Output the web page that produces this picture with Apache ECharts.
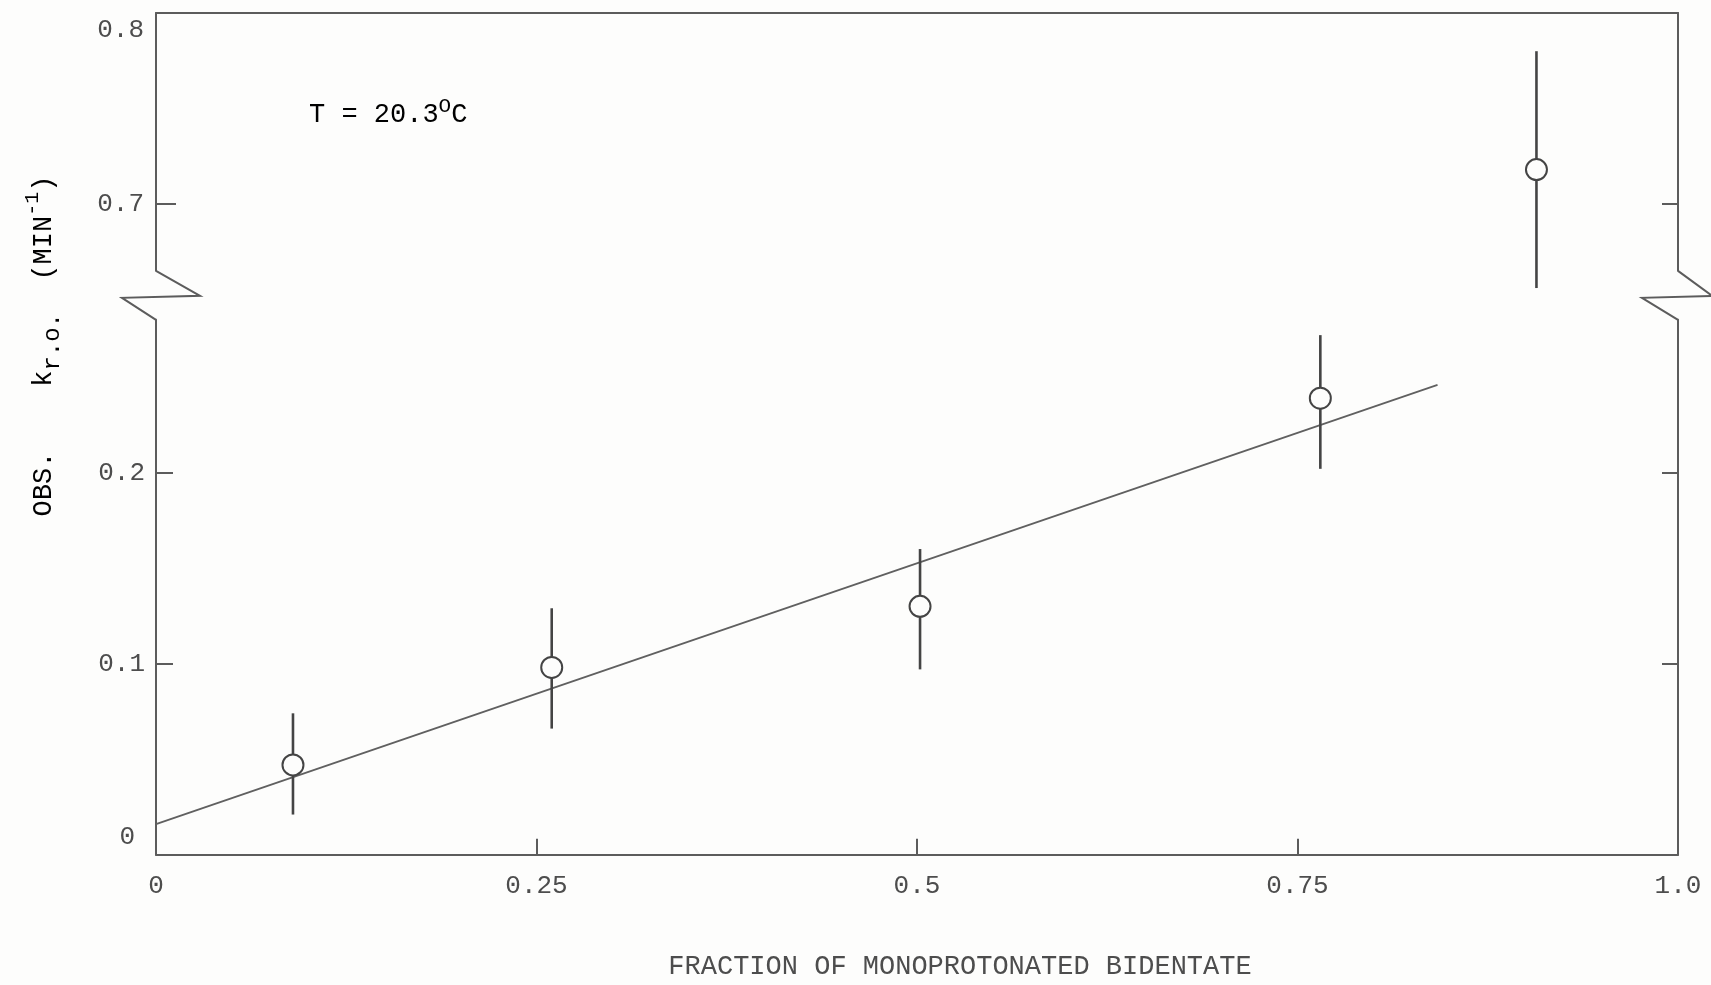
<!DOCTYPE html>
<html>
<head>
<meta charset="utf-8">
<title>Observed rate constant vs. fraction of monoprotonated bidentate</title>
<script src="https://cdn.jsdelivr.net/npm/echarts@6/dist/echarts.min.js"></script>
<style>
  html, body { margin: 0; padding: 0; background: #fdfdfc; }
  #main { width: 1711px; height: 985px; }
</style>
</head>
<body>
<div id="main"></div>
<script>
// Observed rate constant k(r.o.) against the fraction of monoprotonated bidentate
const fraction = [0.09, 0.26, 0.502, 0.765, 0.907];
const kObs     = [0.047, 0.098, 0.130, 0.239, 0.718];
const kLow     = [0.021, 0.066, 0.097, 0.202, 0.656];
const kHigh    = [0.074, 0.129, 0.160, 0.272, 0.780];

// straight line fitted through the lower four points
const fitX = [0, 0.842];
const fitY = [0.016, 0.246];

// tick values and their printed labels
const xTickValues = [0, 0.25, 0.5, 0.75, 1];
const xTickLabels = ['0', '0.25', '0.5', '0.75', '1.0'];
const yLowTicks   = [0, 0.1, 0.2];
const yLowLabels  = ['0', '0.1', '0.2'];
const yHighTicks  = [0.7, 0.8];
const yHighLabels = ['0.7', '0.8'];

// broken y axis: lower panel and upper panel ranges
const lowRange  = [0, 0.28];
const highRange = [0.665, 0.8];

const INK = '#4d4d4d';
const LINE = '#5c5c5c';
const FONT = "'Liberation Mono', 'DejaVu Sans Mono', monospace";
const TICK_FS = 26;
const TITLE_FS = 27;

// both panels share one vertical scale (pixels per unit of k)
const pxPerUnit = 1910;
const plotLeft = 156, plotWidth = 1522, plotTop = 13, breakGap = 49;
const highHeight = (highRange[1] - highRange[0]) * pxPerUnit;
const lowHeight  = (lowRange[1] - lowRange[0]) * pxPerUnit;
const lowTop = plotTop + highHeight + breakGap;

function labelFrom(values, labels) {
  return function (v) {
    for (let i = 0; i < values.length; i++) {
      if (Math.abs(values[i] - v) < 1e-9) return labels[i];
    }
    return '';
  };
}

// split points between the two panels
const lowPts = [], highPts = [], lowBars = [], highBars = [];
fraction.forEach(function (x, i) {
  const pt = [x, kObs[i]];
  const bar = [x, kLow[i], kHigh[i]];
  if (kObs[i] >= highRange[0]) { highPts.push(pt); highBars.push(bar); }
  else { lowPts.push(pt); lowBars.push(bar); }
});

function renderBar(params, api) {
  const x = api.value(0);
  const a = api.coord([x, api.value(1)]);
  const b = api.coord([x, api.value(2)]);
  return {
    type: 'line',
    shape: { x1: a[0], y1: a[1], x2: b[0], y2: b[1] },
    style: { stroke: '#444444', lineWidth: 2.6 }
  };
}

const axisLine = { show: true, onZero: false, lineStyle: { color: LINE, width: 2 } };
const tickStyle = { color: LINE, width: 2 };
const labelText = { color: INK, fontFamily: FONT, fontSize: TICK_FS };
const markerStyle = { color: '#fdfdfc', borderColor: '#444444', borderWidth: 2, opacity: 1 };

const chart = echarts.init(document.getElementById('main'));

chart.setOption({
  backgroundColor: '#fdfdfc',
  animation: false,
  grid: [
    { left: plotLeft, width: plotWidth, top: plotTop, height: highHeight, outerBoundsMode: 'none' },
    { left: plotLeft, width: plotWidth, top: lowTop, height: lowHeight, outerBoundsMode: 'none' }
  ],
  xAxis: [
    {
      gridIndex: 0, type: 'value', min: 0, max: 1, position: 'top',
      axisLine: axisLine, axisTick: { show: false }, axisLabel: { show: false },
      splitLine: { show: false }
    },
    {
      gridIndex: 1, type: 'value', min: 0, max: 1, position: 'bottom',
      axisLine: axisLine,
      axisTick: { show: true, inside: true, length: 16, lineStyle: tickStyle, customValues: [0.25, 0.5, 0.75] },
      axisLabel: Object.assign({ margin: 18, customValues: xTickValues, formatter: labelFrom(xTickValues, xTickLabels) }, labelText),
      splitLine: { show: false },
      name: 'FRACTION OF MONOPROTONATED BIDENTATE',
      nameLocation: 'middle', nameGap: 99,
      nameTextStyle: { color: INK, fontFamily: FONT, fontSize: TITLE_FS, padding: [0, 0, 0, 86] }
    }
  ],
  yAxis: [
    {
      gridIndex: 0, type: 'value', min: highRange[0], max: highRange[1], position: 'left',
      axisLine: axisLine,
      axisTick: { show: true, inside: true, length: 20, lineStyle: tickStyle, customValues: [0.7] },
      axisLabel: Object.assign({
        margin: 12, customValues: yHighTicks,
        formatter: function (v) {
          const t = labelFrom(yHighTicks, yHighLabels)(v);
          return Math.abs(v - highRange[1]) < 1e-9 ? '{top|' + t + '}' : t;
        },
        rich: { top: { fontFamily: FONT, fontSize: TICK_FS, color: INK, padding: [34, 0, 0, 0] } }
      }, labelText),
      splitLine: { show: false }
    },
    {
      gridIndex: 0, type: 'value', min: highRange[0], max: highRange[1], position: 'right',
      axisLine: axisLine,
      axisTick: { show: true, inside: true, length: 16, lineStyle: tickStyle, customValues: [0.7] },
      axisLabel: { show: false }, splitLine: { show: false }
    },
    {
      gridIndex: 1, type: 'value', min: lowRange[0], max: lowRange[1], position: 'left',
      axisLine: axisLine,
      axisTick: { show: true, inside: true, length: 17, lineStyle: tickStyle, customValues: [0.1, 0.2] },
      axisLabel: Object.assign({
        margin: 11, customValues: yLowTicks,
        formatter: function (v) {
          const t = labelFrom(yLowTicks, yLowLabels)(v);
          return Math.abs(v) < 1e-9 ? '{zero|' + t + '}' : t;
        },
        rich: { zero: { fontFamily: FONT, fontSize: TICK_FS, color: INK, padding: [0, 10, 36, 0] } }
      }, labelText),
      splitLine: { show: false }
    },
    {
      gridIndex: 1, type: 'value', min: lowRange[0], max: lowRange[1], position: 'right',
      axisLine: axisLine,
      axisTick: { show: true, inside: true, length: 16, lineStyle: tickStyle, customValues: [0.1, 0.2] },
      axisLabel: { show: false }, splitLine: { show: false }
    }
  ],
  series: [
    {
      name: 'fit', type: 'line', xAxisIndex: 1, yAxisIndex: 2,
      data: fitX.map(function (x, i) { return [x, fitY[i]]; }),
      symbol: 'none', lineStyle: { color: '#606060', width: 1.8 }, z: 2
    },
    {
      name: 'error low panel', type: 'custom', xAxisIndex: 1, yAxisIndex: 2,
      data: lowBars, renderItem: renderBar, clip: false, z: 3
    },
    {
      name: 'error high panel', type: 'custom', xAxisIndex: 0, yAxisIndex: 0,
      data: highBars, renderItem: renderBar, clip: false, z: 3
    },
    {
      name: 'k low panel', type: 'scatter', xAxisIndex: 1, yAxisIndex: 2,
      data: lowPts, symbol: 'circle', symbolSize: 21, itemStyle: markerStyle, z: 4
    },
    {
      name: 'k high panel', type: 'scatter', xAxisIndex: 0, yAxisIndex: 0,
      data: highPts, symbol: 'circle', symbolSize: 21, itemStyle: markerStyle, z: 4
    }
  ]
});

// break marks on both vertical axes, placed from the panel edges
const upLeft  = chart.convertToPixel({ gridIndex: 0 }, [0, highRange[0]]);
const upRight = chart.convertToPixel({ gridIndex: 0 }, [1, highRange[0]]);
const loLeft  = chart.convertToPixel({ gridIndex: 1 }, [0, lowRange[1]]);
const loRight = chart.convertToPixel({ gridIndex: 1 }, [1, lowRange[1]]);

function breakMark(top, bottom, outDx, inDx) {
  return {
    type: 'polyline',
    shape: { points: [
      [top[0], top[1]],
      [top[0] + outDx, top[1] + 25],
      [top[0] - inDx, top[1] + 27],
      [bottom[0], bottom[1]]
    ] },
    style: { stroke: LINE, lineWidth: 2, fill: null },
    z: 10
  };
}

chart.setOption({
  graphic: [
    breakMark(upLeft, loLeft, 44, 34),
    breakMark(upRight, loRight, 34, 36),
    {
      type: 'text', x: 309, y: 115, z: 10,
      style: {
        text: '{a|T = 20.3}{p|O}{a|C}',
        verticalAlign: 'middle', align: 'left',
        rich: {
          a: { fontFamily: FONT, fontSize: TITLE_FS, color: INK, lineHeight: 38, verticalAlign: 'middle' },
          p: { fontFamily: FONT, fontSize: 21, color: INK, lineHeight: 21, verticalAlign: 'top' }
        }
      }
    },
    {
      type: 'text', x: 44, y: 346, rotation: Math.PI / 2, z: 10,
      style: {
        text: '{a|OBS.    k}{s|r.o.}{a|  (MIN}{p|-1}{a|)}',
        align: 'center', verticalAlign: 'middle',
        rich: {
          a: { fontFamily: FONT, fontSize: TITLE_FS, color: INK, lineHeight: 42, verticalAlign: 'middle' },
          s: { fontFamily: FONT, fontSize: 24, color: INK, lineHeight: 24, verticalAlign: 'bottom' },
          p: { fontFamily: FONT, fontSize: 20, color: INK, lineHeight: 20, verticalAlign: 'top' }
        }
      }
    }
  ]
});
</script>
</body>
</html>
